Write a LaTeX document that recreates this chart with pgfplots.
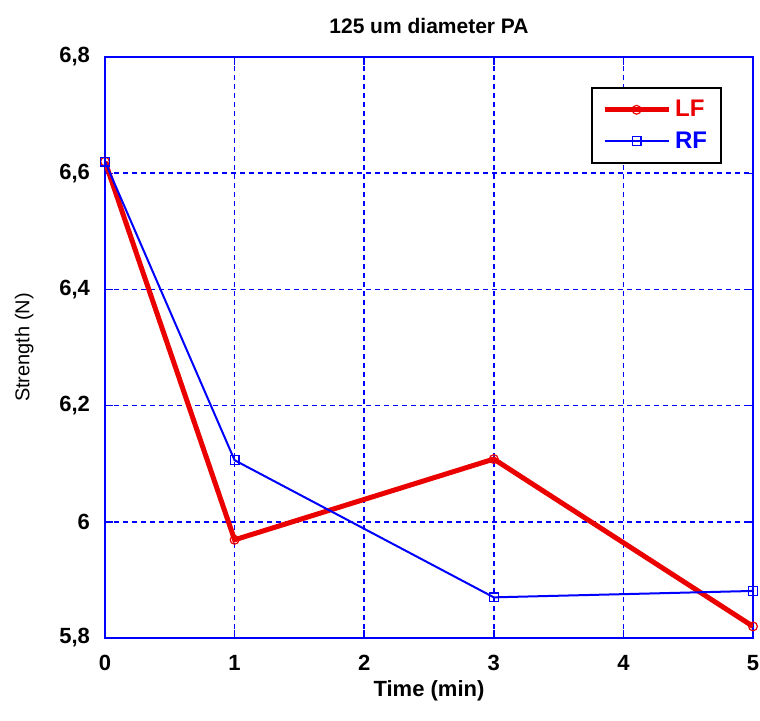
\documentclass[border=0pt]{standalone}
\usepackage{pgfplots}
\pgfplotsset{compat=1.18}
\usepackage{fontspec}
\setmainfont{Liberation Sans}
\definecolor{lfred}{RGB}{235,0,0}
\definecolor{rfblue}{RGB}{0,0,255}
\begin{document}
\begin{tikzpicture}
\begin{axis}[
  at={(0,0)}, anchor=south west,
  scale only axis, width=324pt, height=290.5pt,
  xmin=0, xmax=5, ymin=5.8, ymax=6.8,
  xtick={0,1,2,3,4,5}, ytick={5.8,6,6.2,6.4,6.6,6.8},
  axis line style={draw=rfblue, line width=1pt},
  tick style={draw=rfblue, line width=0.7pt},
  tick align=inside, major tick length=4pt,
  grid=major, major grid style={draw=rfblue, dash pattern=on 2.5pt off 2pt, line width=0.8pt},
  /pgf/number format/use comma,
  /pgf/number format/assume math mode=true,
  ticklabel style={font=\bfseries\fontsize{11}{13}\selectfont},
  yticklabel style={xshift=-4pt},
  xticklabel style={yshift=-5pt},
  title={\bfseries 125 um diameter PA},
  title style={font=\fontsize{10.5}{12}\selectfont, yshift=2pt},
  xlabel={\bfseries Time (min)},
  xlabel style={font=\fontsize{11}{13}\selectfont, yshift=2pt},
  ylabel={Strength (N)},
  ylabel style={font=\fontsize{10}{12}\selectfont, yshift=6pt},
  legend image code/.code={\draw[mark repeat=2,mark phase=2,#1] plot coordinates {(0pt,0pt) (16pt,0pt) (32pt,0pt)};},
  legend style={at={(0.952,0.948)}, anchor=north east, draw=black, line width=0.8pt,
    font=\bfseries\fontsize{12}{14}\selectfont, inner xsep=5pt, inner ysep=4pt, row sep=2pt},
  legend cell align=left,
]
\addplot[lfred, line width=2.5pt, mark=o, mark size=2.2pt, mark options={line width=0.6pt, fill=white}]
  coordinates {(0,6.62) (1,5.969) (3,6.108) (5,5.82)};
\addlegendentry{\textcolor{lfred}{LF}}
\addplot[rfblue, line width=1pt, mark=square, mark size=2.2pt, mark options={line width=0.6pt, fill=white}]
  coordinates {(0,6.62) (1,6.106) (3,5.87) (5,5.881)};
\addlegendentry{\textcolor{rfblue}{RF}}
\end{axis}
\pgfresetboundingbox
\path (-52.5pt,-41pt) rectangle (327.5pt,319pt);
\end{tikzpicture}
\end{document}
